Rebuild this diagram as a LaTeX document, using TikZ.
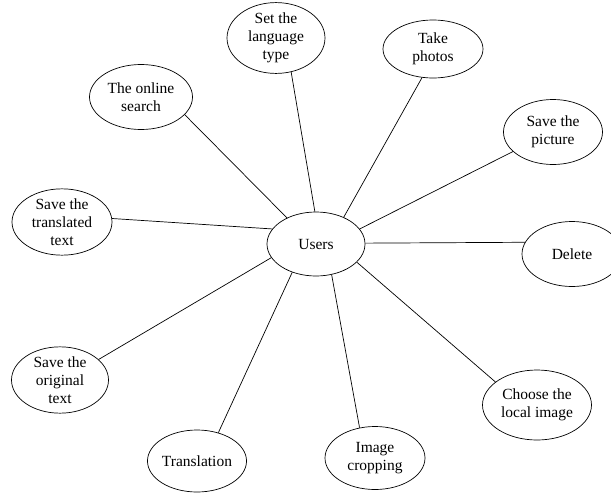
\documentclass[tikz,border=0pt]{standalone}
\usepackage{fontspec}
\setmainfont{Liberation Serif}
\usetikzlibrary{shapes.geometric}
\begin{document}
\begin{tikzpicture}[x=1pt,y=-1pt,
  uc/.style={ellipse,draw,line width=0.7pt,inner sep=0pt,minimum width=99pt,minimum height=64pt,align=center,font=\fontsize{15.5}{18}\selectfont},
  link/.style={line width=0.7pt}]
\useasboundingbox (0,0) rectangle (611,493);
\node[uc,minimum width=98pt,minimum height=64pt] (users) at (316,244) {Users};
\node[uc,minimum width=98pt,minimum height=62pt] (lang) at (276,38) {Set the\\language\\type};
\node[uc,minimum width=103pt,minimum height=65pt] (search) at (141,97) {The online\\search};
\node[uc,minimum width=100pt,minimum height=66pt] (transl) at (62,222) {Save the\\translated\\text};
\node[uc,minimum width=100pt,minimum height=58pt] (photos) at (433,49) {Take\\photos};
\node[uc,minimum width=99pt,minimum height=65pt] (picture) at (553,132) {Save the\\picture};
\node[uc,minimum width=100pt,minimum height=65pt] (delete) at (572,254) {Delete};
\node[uc,minimum width=109pt,minimum height=70pt] (local) at (537,405) {Choose the\\local image};
\node[uc,minimum width=100pt,minimum height=63pt] (crop) at (375,458) {Image\\cropping};
\node[uc,minimum width=99pt,minimum height=62pt] (translation) at (197,461) {Translation};
\node[uc,minimum width=97pt,minimum height=65pt] (orig) at (60,380) {Save the\\original\\text};
\draw[link] (users.92) -- (lang.-66.6);
\draw[link] (users.138) -- (search.-22);
\draw[link] (users.161) -- (transl.4);
\draw[link] (users.44) -- (photos.-111);
\draw[link] (users.19) -- (picture.-154.5);
\draw[link] (users.1) -- (delete.166);
\draw[link] (users.-24) -- (local.151);
\draw[link] (users.-63) -- (crop.117);
\draw[link] (users.-130) -- (translation.53);
\draw[link] (users.-163) -- (orig.28);
\end{tikzpicture}
\end{document}
